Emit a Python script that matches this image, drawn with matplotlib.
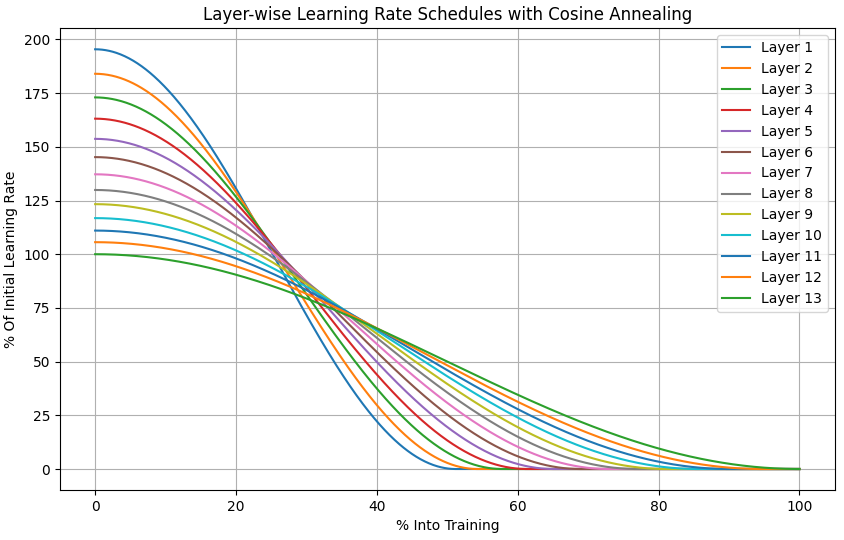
import numpy as np
import matplotlib
matplotlib.use("Agg")
import matplotlib.pyplot as plt

# Per-layer schedule parameters
layers = [f"Layer {i}" for i in range(1, 14)]
start_pct = [195.4, 184.0, 173.0, 163.1, 153.7, 145.2, 137.2, 129.9, 123.3, 116.8, 111.0, 105.6, 100.0]
# % into training at which each layer's rate reaches zero
end_pct = [51.2, 54.3, 57.8, 61.3, 65.1, 68.9, 72.9, 77.0, 81.1, 85.6, 90.1, 94.7, 100.0]

x = np.linspace(0, 100, 1001)

fig = plt.figure(figsize=(8.44, 5.4), dpi=100)
ax = fig.add_axes([0.071, 0.0926, 0.918, 0.855])
for name, s, e in zip(layers, start_pct, end_pct):
    y = np.where(x <= e, s * (1 + np.cos(np.pi * np.minimum(x, e) / e)) / 2, 0.0)
    ax.plot(x, y, label=name)

ax.set_title("Layer-wise Learning Rate Schedules with Cosine Annealing")
ax.set_xlabel("% Into Training")
ax.set_ylabel("% Of Initial Learning Rate")
ax.grid(True)
ax.legend(loc="upper right")
fig.savefig("out.png", dpi=100)
